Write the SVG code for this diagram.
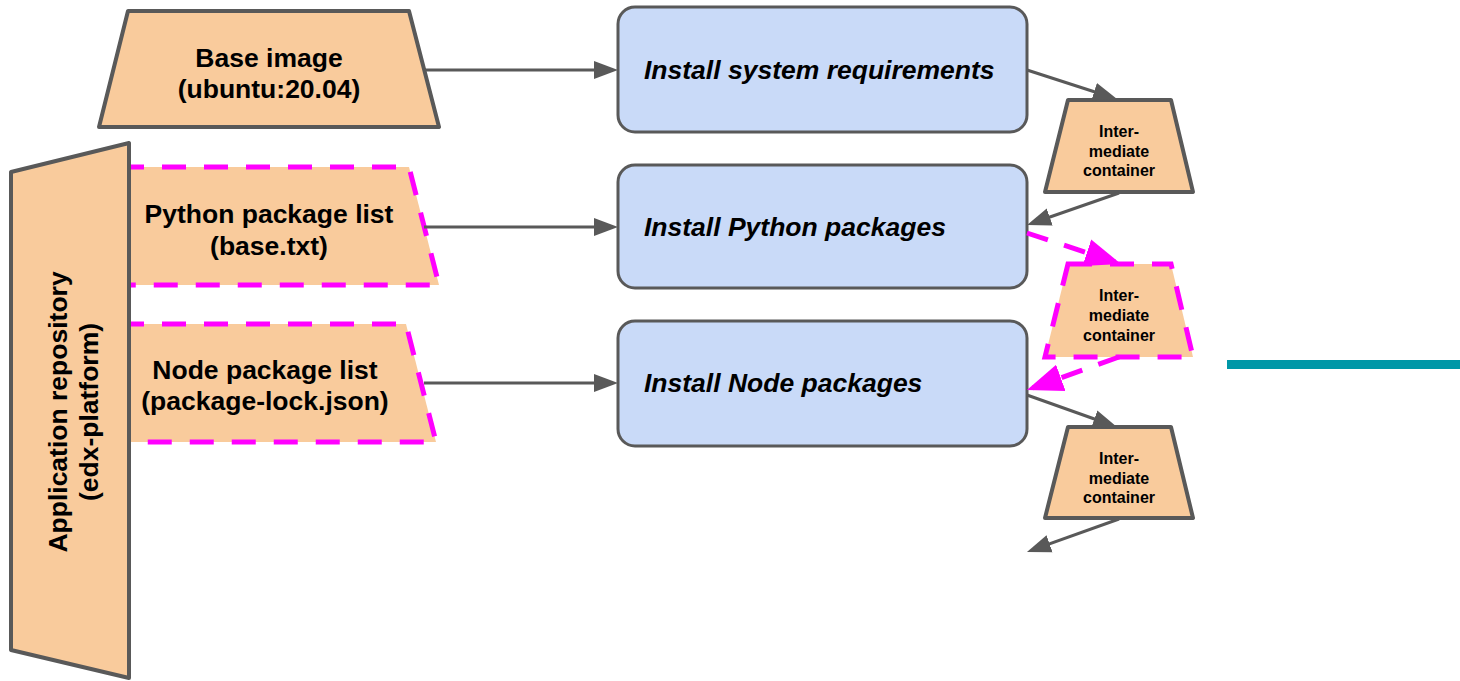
<svg xmlns="http://www.w3.org/2000/svg" width="1460" height="681" viewBox="0 0 1460 681">
<style>
.src{fill:#f9cb9c;stroke:#595959;stroke-width:4;stroke-linejoin:round}
.dsh{fill:#f9cb9c;stroke:#ff00ff;stroke-width:5;stroke-dasharray:24 18;stroke-linejoin:miter}
.step{fill:#c9daf8;stroke:#595959;stroke-width:3}
.t{font-family:"Liberation Sans",Arial,sans-serif;font-weight:bold;font-size:26.5px;fill:#000}
.ti{font-family:"Liberation Sans",Arial,sans-serif;font-weight:bold;font-style:italic;font-size:26.5px;fill:#000}
.ts{font-family:"Liberation Sans",Arial,sans-serif;font-weight:bold;font-size:16px;fill:#000}
.g{stroke:#595959;stroke-width:3;fill:none}
.m{stroke:#ff00ff;stroke-width:5;fill:none;stroke-dasharray:22 17}
</style>
<defs>
<marker id="ag" markerUnits="userSpaceOnUse" markerWidth="24" markerHeight="20" refX="18" refY="10" orient="auto"><path d="M0,1 L24,10 L0,19 Z" fill="#595959"/></marker>
<marker id="am" markerUnits="userSpaceOnUse" markerWidth="36" markerHeight="30" refX="30" refY="15" orient="auto"><path d="M0,1 L36,15 L0,29 Z" fill="#ff00ff"/></marker>
</defs>

<g id="python-list">
<polygon class="dsh" points="120,167 409,167 439,285 120,285"/>
<text class="t" text-anchor="middle" x="269" y="223">Python package list</text>
<text class="t" text-anchor="middle" x="269" y="255">(base.txt)</text>
</g>
<g id="node-list">
<polygon class="dsh" points="120,324 406,324 436,442 120,442"/>
<text class="t" text-anchor="middle" x="265" y="379">Node package list</text>
<text class="t" text-anchor="middle" x="265" y="410">(package-lock.json)</text>
</g>
<g id="app-repo">
<polygon class="src" points="11,172 129,143 129,678 11,650"/>
<g transform="translate(0,412) rotate(-90)">
<text class="t" text-anchor="middle" x="0" y="67">Application repository</text>
<text class="t" text-anchor="middle" x="0" y="98">(edx-platform)</text>
</g>
</g>
<g id="base-image">
<polygon class="src" points="128,11 409,11 439,127 99,127"/>
<text class="t" text-anchor="middle" x="269" y="67">Base image</text>
<text class="t" text-anchor="middle" x="269" y="98">(ubuntu:20.04)</text>
</g>

<g id="install-system">
<rect class="step" x="618" y="7" width="409" height="125" rx="17"/>
<text class="ti" x="644" y="79">Install system requirements</text>
</g>
<g id="install-python">
<rect class="step" x="618" y="165" width="409" height="123" rx="17"/>
<text class="ti" x="644" y="236">Install Python packages</text>
</g>
<g id="install-node">
<rect class="step" x="618" y="321" width="409" height="125" rx="17"/>
<text class="ti" x="644" y="392">Install Node packages</text>
</g>

<g id="container-1">
<polygon class="src" points="1068,100 1171,100 1193,192 1045,192"/>
<text class="ts" text-anchor="middle" x="1119" y="137">Inter-</text>
<text class="ts" text-anchor="middle" x="1119" y="157">mediate</text>
<text class="ts" text-anchor="middle" x="1119" y="176">container</text>
</g>
<g id="container-2">
<polygon class="dsh" points="1068,264 1171,264 1193,357 1045,357"/>
<text class="ts" text-anchor="middle" x="1119" y="301">Inter-</text>
<text class="ts" text-anchor="middle" x="1119" y="321">mediate</text>
<text class="ts" text-anchor="middle" x="1119" y="341">container</text>
</g>
<g id="container-3">
<polygon class="src" points="1068,427 1171,427 1193,518 1045,518"/>
<text class="ts" text-anchor="middle" x="1119" y="464">Inter-</text>
<text class="ts" text-anchor="middle" x="1119" y="484">mediate</text>
<text class="ts" text-anchor="middle" x="1119" y="503">container</text>
</g>

<g id="connectors">
<line class="g" x1="425" y1="70" x2="612" y2="70" marker-end="url(#ag)"/>
<line class="g" x1="424" y1="227" x2="612" y2="227" marker-end="url(#ag)"/>
<line class="g" x1="424" y1="383" x2="612" y2="383" marker-end="url(#ag)"/>
<line class="g" x1="1027" y1="70" x2="1111.3" y2="97.2" marker-end="url(#ag)"/>
<line class="g" x1="1119" y1="193" x2="1032.7" y2="223" marker-end="url(#ag)"/>
<line class="g" x1="1027" y1="395" x2="1111.3" y2="425" marker-end="url(#ag)"/>
<line class="g" x1="1119" y1="519" x2="1032.6" y2="549.9" marker-end="url(#ag)"/>
<line class="m" x1="1027" y1="233" x2="1115.3" y2="262.1" marker-end="url(#am)"/>
<line class="m" x1="1119" y1="357" x2="1032.6" y2="388" marker-end="url(#am)"/>
</g>

<rect id="teal-line" x="1227" y="360" width="233" height="9" fill="#0097a7"/>
</svg>
